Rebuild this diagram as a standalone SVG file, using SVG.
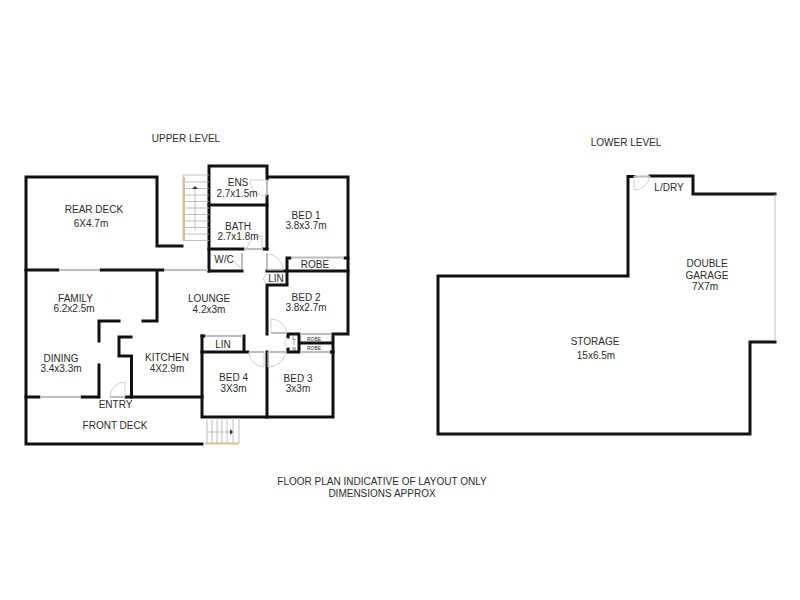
<svg xmlns="http://www.w3.org/2000/svg" width="800" height="600" viewBox="0 0 800 600">
<style>
.w{fill:none;stroke:#111;stroke-width:3;stroke-linecap:square;stroke-linejoin:miter}
.g{fill:none;stroke:#bdbdbd;stroke-width:2}
.d{fill:none;stroke:#cfcfcf;stroke-width:1}
.t{fill:none;stroke:#b0b0b0;stroke-width:.8}
.b{fill:none;stroke:#d8bf8c;stroke-width:2}
text{font-family:"Liberation Sans",Arial,sans-serif;font-size:10px;fill:#2b2b2b;text-anchor:middle}
.s{font-size:5px}
</style>
<rect width="800" height="600" fill="#fff"/>
<g id="upper-walls">
<path class="w" d="M182 246H157V177H26V444H202"/>
<path class="w" d="M26 270H58M101 270H163M157 270V321H143"/>
<path class="w" d="M119 321H99V341M99 365V397"/>
<path class="w" d="M131 337H119V356H131.500V397"/>
<path class="w" d="M26 397H39M82 397H98M126 397H202"/>
<path class="w" d="M209 271V166H267V179M267 196V249M267 177H348V334H333V417H202V336"/>
<path class="w" d="M209 205H267M209 249H243M264 249H267M209 271H242"/>
<path class="w" d="M267 271H348M267 285V334M287 258V285H267M287 258H290M345 258H348"/>
<path class="w" d="M202 336H204M244 336V352M202 352H248M267 352V417"/>
<path class="w" d="M288 337V334H299V352H288V349M299 343H332M331 352H333"/>
</g>
<g id="upper-openings">
<path class="g" d="M59 270H100M40 397H81M110 397H125M164 270H208M267 180V195M244 249H263M242 253V269M267 253V269M291 257.500H344M249 352H264M268 352H286M271 333H287M205 336H243M300 334H331M300 352H330"/>
<path class="d" d="M250 180H267M250 180A16 16 0 0 0 267 196M247 249A15 15 0 0 1 262 236V249M226 254L241 268M267 254A16 16 0 0 1 283 270H267M267 274L263 279L267 284M249 352A15 15 0 0 0 264 367V352M286 352A18 18 0 0 1 268 367V352M271 333V319A16 16 0 0 1 287 333M110 397A15 15 0 0 1 125 382V397M288 338L284 343L288 348"/>
</g>
<g id="upper-stairs">
<path class="t" d="M183 175H209M183 182H209M183 188.500H209M183 195H209M183 201.500H209M183 208H209M183 214.500H209M183 221H209M183 227.500H209M183 234H209M183 240.500H209M183 175V241M195 188V230"/>
<path d="M192 189L195 186L198 189Z" fill="#333"/>
<path class="b" d="M184 177V241"/>
<path class="t" d="M207 418V443M212 418V443M217 418V443M222 418V443M227 418V443M233 418V443M239 418V443M207 432H230"/>
<path d="M230 429L233 432L230 435Z" fill="#333"/>
<path class="b" d="M205 443.500H239"/>
</g>
<g id="lower-walls">
<path class="w" d="M634 176.500H628V276H438V434H750V342H775"/>
<path class="w" d="M650 176H693V194H775"/>
<path class="g" d="M634 176.500H650"/>
<path class="t" d="M775 194V341"/>
<path class="d" d="M634 176V190A16 16 0 0 0 650 176"/>
</g>
<g id="labels">
<text x="186" y="142">UPPER LEVEL</text>
<text x="626" y="146">LOWER LEVEL</text>
<text x="94" y="213">REAR DECK</text>
<text x="91" y="227">6X4.7m</text>
<text x="238" y="186">ENS</text>
<text x="237" y="197">2.7x1.5m</text>
<text x="238" y="230">BATH</text>
<text x="238" y="240">2.7x1.8m</text>
<text x="224" y="263">W/C</text>
<text x="306" y="218.500">BED 1</text>
<text x="306" y="229">3.8x3.7m</text>
<text x="315" y="267.500">ROBE</text>
<text x="276" y="282">LIN</text>
<text x="306" y="301">BED 2</text>
<text x="306" y="311">3.8x2.7m</text>
<text x="209" y="301.500">LOUNGE</text>
<text x="209" y="312.500">4.2x3m</text>
<text x="75.500" y="301.500">FAMILY</text>
<text x="74" y="312">6.2x2.5m</text>
<text x="61" y="361.500">DINING</text>
<text x="61" y="372">3.4x3.3m</text>
<text x="167" y="361">KITCHEN</text>
<text x="167" y="372">4X2.9m</text>
<text x="223" y="348">LIN</text>
<text x="233.500" y="381">BED 4</text>
<text x="233.500" y="391.500">3X3m</text>
<text x="298" y="382">BED 3</text>
<text x="298" y="392">3x3m</text>
<text x="115.500" y="408">ENTRY</text>
<text x="115" y="428.500">FRONT DECK</text>
<text class="s" x="314" y="341">ROBE</text>
<text class="s" x="314" y="350">ROBE</text>
<text class="s" x="294" y="340">L</text>
<text class="s" x="294" y="345">I</text>
<text class="s" x="294" y="351">N</text>
<text x="669" y="191">L/DRY</text>
<text x="707" y="266.500">DOUBLE</text>
<text x="707" y="278.500">GARAGE</text>
<text x="705" y="289.500">7X7m</text>
<text x="595" y="345">STORAGE</text>
<text x="596" y="359">15x6.5m</text>
<text x="382" y="485">FLOOR PLAN INDICATIVE OF LAYOUT ONLY</text>
<text x="382" y="497">DIMENSIONS APPROX</text>
</g>
</svg>
